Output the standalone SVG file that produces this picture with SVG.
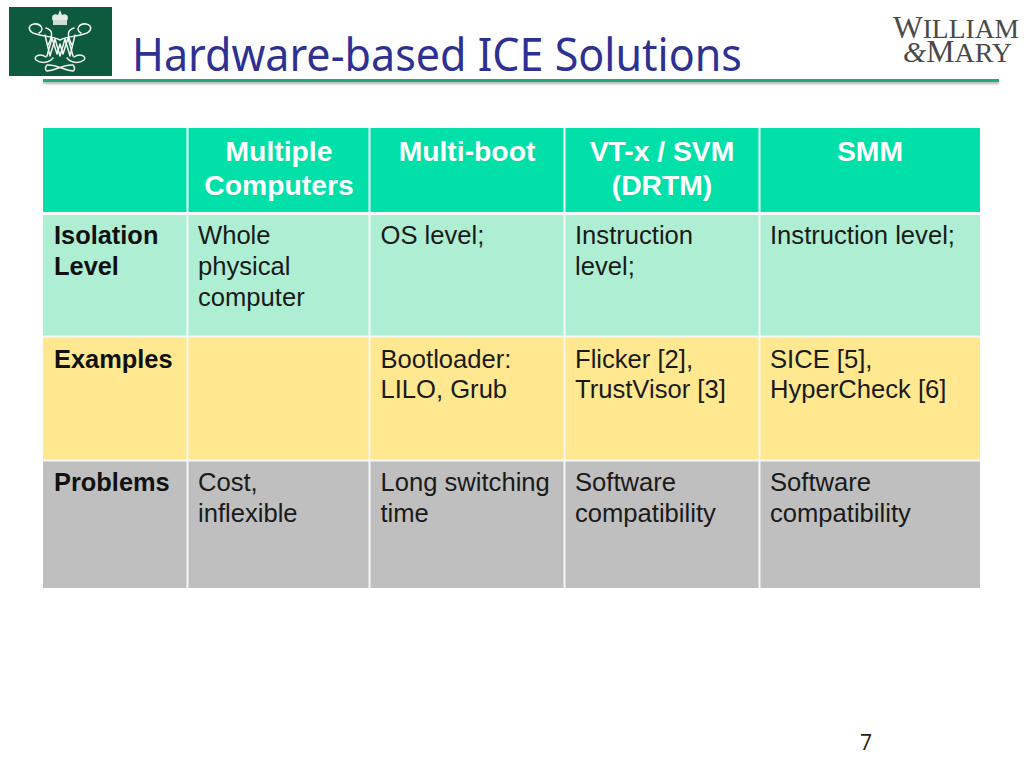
<svg xmlns="http://www.w3.org/2000/svg" width="1024" height="768" viewBox="0 0 1024 768">
<style>
text{font-family:"Liberation Sans",Arial,sans-serif}
.h{font-size:28.3px;font-weight:700;fill:#fff;text-anchor:middle}
.b{font-size:25.6px;fill:#1a1a1a}
.l{font-size:25.4px;font-weight:700;fill:#111}
.sep{stroke:#f4f8f6;stroke-width:2;fill:none}
.lg{fill:none;stroke:#f2f7f3;stroke-width:1.5;stroke-linecap:round;stroke-linejoin:round}
.serif{font-family:"Liberation Serif",serif;fill:#4a4a4a}
</style>
<defs><filter id="blur" x="-5%" y="-300%" width="110%" height="700%"><feGaussianBlur stdDeviation="1.2"/></filter></defs>
<rect width="1024" height="768" fill="#fff"/>
<g id="logo-crest">
<rect x="9" y="7" width="103" height="69" fill="#0e5a3f"/>
<path d="M53 21 C50 15 55 13 58 15 L60 10 L62 15 C65 13 70 15 67 21 Z" fill="#e4ece7"/>
<rect x="53" y="20" width="14" height="5" fill="#cfdcd4"/>
<path class="lg" d="M45 35 L50 56 L55 39 L60 56 L65 39 L70 56 L75 35" stroke-width="2.4"/>
<path class="lg" d="M47 56 L52 38 L57 54 L60 44 L63 54 L68 38 L73 56"/>
<path class="lg" d="M60 40 C52 36 45 37 36 34 C28 32 27 25 34 24 C41 23 45 30 39 33 M60 40 C68 36 75 37 84 34 C92 32 93 25 86 24 C79 23 75 30 81 33"/>
<path class="lg" d="M46 28 C52 30 54 34 48 45 M74 28 C68 30 66 34 72 45"/>
<path class="lg" d="M53 58 C48 64 40 63 36 60 C33 56 40 53 46 57 M67 58 C72 64 80 63 84 60 C87 56 80 53 74 57"/>
<path class="lg" d="M47 71 C54 71 64 64 73 65 M47 65 C56 64 66 71 73 71 M47 65 C45 67 45 70 47 71 M73 65 C75 67 75 70 73 71"/>
</g>
<g id="title">
<text x="132" y="71" font-size="46" fill="#2e3192" textLength="610" lengthAdjust="spacingAndGlyphs" style="font-family:'Noto Sans','Open Sans',sans-serif">Hardware-based ICE Solutions</text>
<rect x="43" y="81" width="956" height="3" fill="#777" opacity=".55" filter="url(#blur)"/>
<rect x="43" y="79" width="956" height="3" fill="#1fa97c"/>
</g>
<g id="logo-wm">
<text class="serif" x="893" y="38" font-size="28" textLength="126" lengthAdjust="spacingAndGlyphs"><tspan font-size="32">W</tspan>ILLIAM</text>
<text class="serif" x="903" y="62" font-size="28" textLength="109" lengthAdjust="spacingAndGlyphs"><tspan font-style="italic" font-size="30">&amp;</tspan><tspan font-size="32">M</tspan>ARY</text>
</g>
<g id="table-fills">
<rect x="43" y="128" width="937" height="84" fill="#00e0a8"/>
<rect x="43" y="215" width="937" height="122" fill="#aeeed3"/>
<rect x="43" y="337" width="937" height="124" fill="#ffe88f"/>
<rect x="43" y="461" width="937" height="127" fill="#bfbfbf"/>
</g>
<g id="connectors">
<path class="sep" d="M187.500 128V588M369.500 128V588M564.500 128V588M759.500 128V588" />
<path class="sep" d="M43 213.500H980" stroke-width="3"/>
<path class="sep" d="M43 336.500H980M43 460.500H980"/>
</g>
<g id="header-row">
<text class="h" x="279" y="161">Multiple</text>
<text class="h" x="279" y="195">Computers</text>
<text class="h" x="467" y="161">Multi-boot</text>
<text class="h" x="662" y="161">VT-x / SVM</text>
<text class="h" x="662" y="195">(DRTM)</text>
<text class="h" x="870" y="161">SMM</text>
</g>
<g id="row-isolation">
<text class="l" x="54" y="244">Isolation</text>
<text class="l" x="54" y="275">Level</text>
<text class="b" x="198" y="244">Whole</text>
<text class="b" x="198" y="275">physical</text>
<text class="b" x="198" y="306">computer</text>
<text class="b" x="380.500" y="244">OS level;</text>
<text class="b" x="575" y="244">Instruction</text>
<text class="b" x="575" y="275">level;</text>
<text class="b" x="770" y="244">Instruction level;</text>
</g>
<g id="row-examples">
<text class="l" x="54" y="368">Examples</text>
<text class="b" x="380.500" y="368">Bootloader:</text>
<text class="b" x="380.500" y="398">LILO, Grub</text>
<text class="b" x="575" y="368">Flicker [2],</text>
<text class="b" x="575" y="398">TrustVisor [3]</text>
<text class="b" x="770" y="368">SICE [5],</text>
<text class="b" x="770" y="398">HyperCheck [6]</text>
</g>
<g id="row-problems">
<text class="l" x="54" y="491">Problems</text>
<text class="b" x="198" y="491">Cost,</text>
<text class="b" x="198" y="522">inflexible</text>
<text class="b" x="380.500" y="491">Long switching</text>
<text class="b" x="380.500" y="522">time</text>
<text class="b" x="575" y="491">Software</text>
<text class="b" x="575" y="522">compatibility</text>
<text class="b" x="770" y="491">Software</text>
<text class="b" x="770" y="522">compatibility</text>
</g>
<g id="page-number"><text x="860" y="750" font-size="21" fill="#222" style="font-family:'Open Sans','Liberation Sans',sans-serif">7</text></g>
</svg>
